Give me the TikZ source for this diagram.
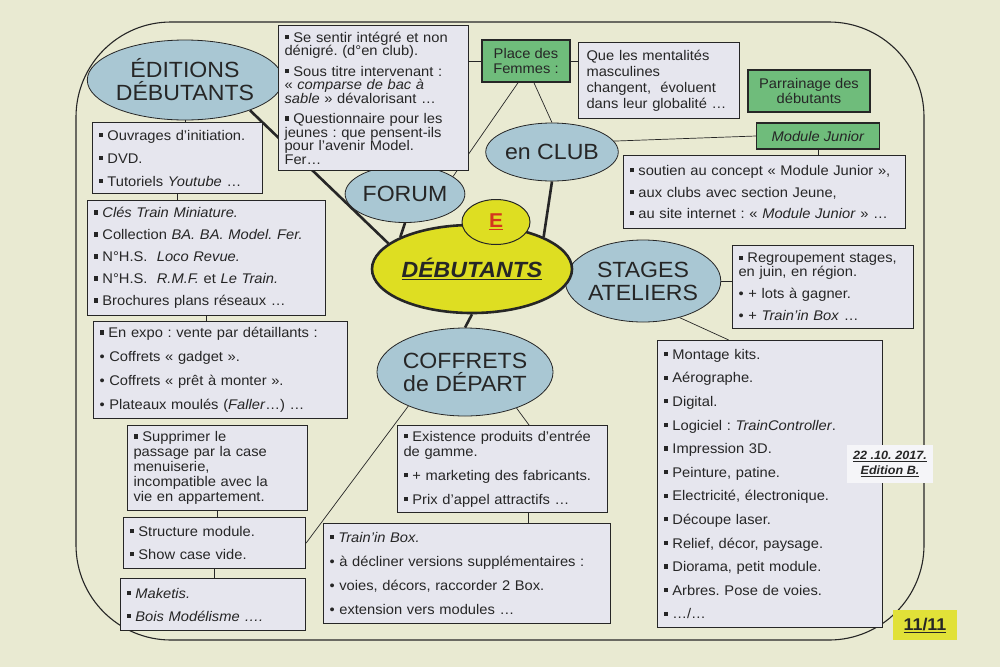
\documentclass[tikz,border=0pt]{standalone}
\usepackage{fontspec}
\setmainfont[FakeStretch=1.05]{Liberation Sans}
\usetikzlibrary{shapes.geometric,backgrounds}
\definecolor{ink}{HTML}{262626}
\definecolor{fond}{HTML}{E9EAD2}
\definecolor{bleu}{HTML}{A9C7D3}
\definecolor{jaune}{HTML}{DEDE22}
\definecolor{vert}{HTML}{6FBC7B}
\definecolor{papier}{HTML}{E6E6EE}
\definecolor{rouge}{HTML}{D4361E}
\newcommand{\puce}{\rule[.22em]{.3em}{.3em}\ }
\newcommand{\rond}{\textbullet\ }
\frenchspacing

\begin{document}
\begin{tikzpicture}[x=1pt,y=-1pt,font=\fontsize{14}{15}\selectfont,text=ink,
  bulle/.style={ellipse,draw=ink,fill=bleu,line width=.8pt,inner sep=0pt,
    align=center,font=\fontsize{22}{23}\selectfont},
  boite/.style={draw=ink,fill=papier,line width=1.1pt,anchor=north west,
    inner xsep=6pt,inner ysep=2pt,align=left},
  etiquette/.style={draw=ink,fill=vert,line width=1.1pt,inner sep=0pt,align=center},
  lien/.style={draw=ink,line width=.7pt},
  lienfort/.style={draw=ink,line width=2.6pt}]
  \useasboundingbox (0,0) rectangle (1000,667);
  % bulles
  \node[bulle,minimum width=165pt,minimum height=80pt] (edit) at (185,80)
    {ÉDITIONS\\DÉBUTANTS};
  \node[bulle,minimum width=114pt,minimum height=57pt] (forum) at (405,194) {FORUM};
  \node[bulle,minimum width=112pt,minimum height=58pt] (club) at (552,152) {en CLUB};
  \node[bulle,minimum width=125pt,minimum height=82pt] (stages) at (643,281)
    {STAGES\\ATELIERS};
  \node[bulle,minimum width=150pt,minimum height=88pt] (coff) at (465,372)
    {COFFRETS\\de DÉPART};
  \node[bulle,fill=jaune,line width=2.6pt,minimum width=200pt,minimum height=88pt]
    (debut) at (472,269) {\underline{\textbf{\textit{DÉBUTANTS}}}};
  \node[ellipse,draw=ink,fill=jaune,line width=1pt,inner sep=0pt,minimum width=68pt,
    minimum height=45pt,text=rouge,font=\fontsize{20}{20}\selectfont\bfseries]
    (e) at (496,222) {\underline{E}};
  % colonne de gauche
  \node[boite,text width=158pt,minimum height=71pt] (ouvr) at (92,122)
    {\puce Ouvrages d'initiation.\\[8pt]
     \puce DVD.\\[8pt]
     \puce Tutoriels \textit{Youtube} …};
  \node[boite,text width=226pt,minimum height=115pt] (cles) at (87,200)
    {\puce \textit{Clés Train Miniature.}\\[7pt]
     \puce Collection \textit{BA. BA. Model. Fer.}\\[7pt]
     \puce N°H.S.\ \ \textit{Loco Revue.}\\[7pt]
     \puce N°H.S.\ \ \textit{R.M.F.} et \textit{Le Train.}\\[7pt]
     \puce Brochures plans réseaux …};
  \node[boite,text width=242pt,minimum height=97pt] (expo) at (93,321)
    {\puce En expo : vente par détaillants :\\[9pt]
     \rond Coffrets « gadget ».\\[9pt]
     \rond Coffrets « prêt à monter ».\\[9pt]
     \rond Plateaux moulés (\textit{Faller}…) …};
  \node[boite,text width=168pt,minimum height=85pt] (supp) at (127,425)
    {\puce Supprimer le\\passage par la case\\menuiserie,\\
     incompatible avec la\\vie en appartement.};
  \node[boite,text width=170pt,minimum height=51pt] (struct) at (123,517)
    {\puce Structure module.\\[8pt]
     \puce Show case vide.};
  \node[boite,text width=173pt,minimum height=52pt] (maket) at (120,578)
    {\puce \textit{Maketis.}\\[8pt]
     \puce \textit{Bois Modélisme ….}};
  % haut
  \node[boite,text width=178pt,minimum height=145pt,font=\fontsize{14}{13.5}\selectfont]
    (fbox) at (278,25)
    {\puce Se sentir intégré et non\\dénigré. (d°en club).\\[7pt]
     \puce Sous titre intervenant :\\« \textit{comparse de bac à}\\
     \textit{sable} » dévalorisant …\\[7pt]
     \puce Questionnaire pour les\\jeunes : que pensent-ils\\
     pour l'avenir Model.\\Fer…};
  \node[etiquette,minimum width=88pt,minimum height=42pt] (place) at (526,61)
    {Place des\\Femmes :};
  \node[boite,text width=145pt,minimum height=76pt,inner xsep=8pt,
    font=\fontsize{14}{16}\selectfont] (que) at (578,42)
    {Que les mentalités\\masculines\\changent,\ \ évoluent\\dans leur globalité …};
  \node[etiquette,minimum width=122pt,minimum height=42pt] (parrain) at (809,91)
    {Parrainage des\\débutants};
  \node[etiquette,minimum width=123pt,minimum height=26pt] (modj) at (818,136)
    {\textit{Module Junior}};
  \node[boite,text width=270pt,minimum height=73pt] (soutien) at (623,155)
    {\puce soutien au concept « Module Junior »,\\[6.5pt]
     \puce aux clubs avec section Jeune,\\[6.5pt]
     \puce au site internet : « \textit{Module Junior} » …};
  % droite
  \node[boite,text width=169pt,minimum height=83pt,font=\fontsize{14}{14}\selectfont]
    (regroup) at (732,245)
    {\puce Regroupement stages,\\en juin, en région.\\[8pt]
     \rond + lots à gagner.\\[8pt]
     \rond + \textit{Train'in Box} …};
  \node[boite,text width=213pt,minimum height=287pt] (montage) at (657,340)
    {\puce Montage kits.\\[8.6pt]
     \puce Aérographe.\\[8.6pt]
     \puce Digital.\\[8.6pt]
     \puce Logiciel : \textit{TrainController}.\\[8.6pt]
     \puce Impression 3D.\\[8.6pt]
     \puce Peinture, patine.\\[8.6pt]
     \puce Electricité, électronique.\\[8.6pt]
     \puce Découpe laser.\\[8.6pt]
     \puce Relief, décor, paysage.\\[8.6pt]
     \puce Diorama, petit module.\\[8.6pt]
     \puce Arbres. Pose de voies.\\[8.6pt]
     \puce …/…};
  % bas
  \node[boite,text width=198pt,minimum height=87pt] (exist) at (397,425)
    {\puce Existence produits d'entrée\\de gamme.\\[9pt]
     \puce + marketing des fabricants.\\[9pt]
     \puce Prix d'appel attractifs …};
  \node[boite,text width=275pt,minimum height=100pt] (trainin) at (323,523)
    {\puce \textit{Train'in Box.}\\[9pt]
     \rond à décliner versions supplémentaires :\\[9pt]
     \rond voies, décors, raccorder 2 Box.\\[9pt]
     \rond extension vers modules …};
  % date et page
  \node[fill=papier!40,minimum width=86pt,minimum height=38pt,inner sep=0pt,
    align=center,font=\fontsize{12}{15}\selectfont\bfseries\itshape]
    (date) at (890,464) {\underline{22 .10. 2017.}\\\underline{Edition B.}};
  \node[fill=jaune!90!white,minimum width=64pt,minimum height=30pt,inner sep=0pt,
    font=\fontsize{17}{17}\selectfont\bfseries] (page) at (925,625) {\underline{11/11}};
  \begin{scope}[on background layer]
    \fill[fond] (0,0) rectangle (1000,667);
    \draw[ink,line width=1.1pt,rounded corners=95pt] (76,22) rectangle (924,640);
    \draw[lienfort] (edit.-25) -- (debut.163);
    \draw[lienfort] (forum.south) -- (debut.north west);
    \draw[lienfort] (club.south) -- (debut.north east);
    \draw[lienfort] (debut.east) -- (debut.east -| stages.west);
    \draw[lienfort] (debut.south) -- (coff.north);
    \draw[lien] (edit.south) -- (edit.south |- ouvr.north);
    \draw[lien] (ouvr.south) -- (ouvr.south |- cles.north);
    \draw[lien] (cles.south) -- (cles.south |- expo.north);
    \draw[lien] (supp.south) -- (supp.south |- struct.north);
    \draw[lien] (struct.south) -- (struct.south |- maket.north);
    \draw[lien] (place.west) -- (place.west -| fbox.east);
    \draw[lien] (place.east) -- (place.east -| que.west);
    \draw[lien] (place.250) -- (forum.20);
    \draw[lien] (place.290) -- (club.north);
    \draw[lien] (club.10) -- (modj.west);
    \draw[lien] (modj.south) -- (modj.south |- soutien.north);
    \draw[lien] (stages.east) -- (stages.east -| regroup.west);
    \draw[lien] (stages.-45) -- (montage.106);
    \draw[lien] (coff.-35) -- (exist.59);
    \draw[lien] (coff.211) -- (struct.east);
    \draw[lien] (exist.-60) -- (exist.-60 |- trainin.north);
  \end{scope}
\end{tikzpicture}
\end{document}
